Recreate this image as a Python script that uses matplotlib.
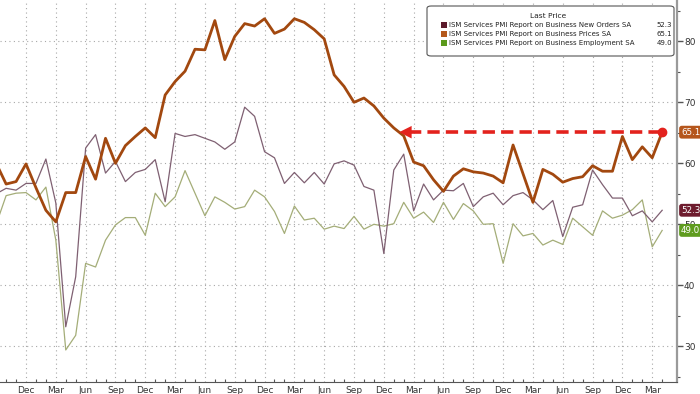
import numpy as np
import pandas as pd
import matplotlib
matplotlib.use('Agg')
import matplotlib.pyplot as plt
from matplotlib.patches import FancyBboxPatch, Rectangle
from matplotlib.ticker import FixedLocator, MultipleLocator
import matplotlib.transforms as mtransforms

plt.rcParams['font.family'] = ['DejaVu Sans']

# monthly readings, Sep 2019 .. Apr 2025
prices = [60.0, 56.6, 57.0, 59.9,
          56.0, 52.3, 50.4, 55.2, 55.2, 61.1, 57.4, 64.1, 60.0, 62.9, 64.4, 65.8,
          64.2, 71.2, 73.4, 75.1, 78.7, 78.6, 83.4, 77.0, 80.8, 82.9, 82.5, 83.7,
          81.3, 82.0, 83.7, 83.1, 81.9, 80.4, 74.5, 72.6, 70.0, 70.7, 69.4, 67.4,
          65.8, 64.5, 60.2, 59.6, 57.3, 55.4, 57.9, 59.1, 58.6, 58.4, 57.9, 56.8,
          63.0, 58.3, 53.6, 59.0, 58.2, 56.9, 57.5, 57.8, 59.6, 58.7, 58.7, 64.4,
          60.6, 62.7, 60.9, 65.1]
new_orders = [55.0, 55.9, 55.6, 56.7,
              56.7, 60.7, 53.5, 33.2, 41.4, 62.5, 64.7, 58.4, 60.3, 57.0, 58.5, 59.0,
              60.6, 53.7, 64.9, 64.4, 64.7, 64.1, 63.5, 62.3, 63.5, 69.2, 67.7, 61.9,
              60.9, 56.7, 58.5, 56.8, 58.5, 56.6, 59.9, 60.4, 59.7, 56.2, 55.6, 45.2,
              58.9, 61.5, 52.2, 56.6, 54.0, 55.6, 55.5, 56.7, 52.9, 54.5, 55.1, 53.2,
              54.7, 55.2, 54.0, 52.4, 53.9, 48.0, 52.8, 53.2, 58.9, 56.5, 54.3, 54.3,
              51.4, 52.2, 50.4, 52.3]
employment = [50.0, 54.7, 55.1, 55.2,
              54.0, 56.1, 47.4, 29.4, 31.8, 43.6, 43.0, 47.4, 49.9, 51.1, 51.1, 48.2,
              55.1, 52.9, 54.5, 58.8, 55.1, 51.4, 54.5, 53.6, 52.5, 52.9, 55.6, 54.5,
              52.1, 48.5, 53.0, 50.7, 51.0, 49.2, 49.7, 49.3, 51.3, 49.2, 50.0, 49.7,
              50.1, 53.6, 51.0, 52.0, 50.3, 53.6, 50.8, 53.4, 52.2, 50.0, 50.1, 43.6,
              50.1, 48.1, 48.5, 46.6, 47.4, 46.7, 51.0, 49.6, 48.2, 52.2, 51.0, 51.5,
              52.4, 54.0, 46.3, 49.0]

series_names = ['ISM Services PMI Report on Business New Orders SA',
                'ISM Services PMI Report on Business Prices SA',
                'ISM Services PMI Report on Business Employment SA']
legend_colors = ['#5c1a2b', '#b4581b', '#5b9a1c']
tag_colors = ['#6e1c2e', '#b5561c', '#5f9c1f']

dates = pd.date_range('2019-09-01', periods=len(prices), freq='MS')
x = np.array((dates.year - 2019) * 12 + dates.month - 12, dtype=float)  # Dec 2019 -> 0

W, H = 700, 394
fig = plt.figure(figsize=(7, 3.94), dpi=100)
fig.patch.set_facecolor('white')
ax_bottom = 381.7
ax_right = 677
ax = fig.add_axes([0, (H - ax_bottom) / H, ax_right / W, ax_bottom / H])

ppm = 9.94  # pixels per month
xmin, xmax = -26 / ppm, (ax_right - 26) / ppm
ax.set_xlim(xmin, xmax)
ax.set_ylim(50 - (ax_bottom - 224.3) / 6.1, 50 + 224.3 / 6.1)

# grid
quarter = (dates.month % 3 == 0) & (x >= xmin)
for xv in x[quarter]:
    ax.axvline(xv, color='#a8a8a8', lw=0.8, ls=(0, (1, 3)), zorder=0)
for yv in range(30, 90, 10):
    ax.axhline(yv, color='#a8a8a8', lw=0.8, ls=(0, (1, 3)), zorder=0)

ax.plot(x, employment, color='#a4ad78', lw=0.9, zorder=2)
ax.plot(x, new_orders, color='#7f6072', lw=0.9, zorder=3)
ax.plot(x, prices, color='#a2480f', lw=2.0, zorder=4)

# arrow from latest price back to where prices last stood at that level
last = prices[-1]
tip = None
for i in range(len(prices) - 2, 0, -1):
    if prices[i - 1] >= last > prices[i]:
        tip = x[i - 1] + (prices[i - 1] - last) / (prices[i - 1] - prices[i])
        break
red = '#e3221d'
head = 1.3
ax.plot([tip + head * 0.8, x[-1]], [last, last], color=red, lw=2.6,
        ls=(0, (3.4, 1.7)), zorder=6, solid_capstyle='butt', dash_capstyle='butt')
ax.plot([x[-1]], [last], 'o', color=red, ms=6, zorder=7)
ax.annotate('', xy=(tip, last), xytext=(tip + head, last),
            arrowprops=dict(arrowstyle='-|>,head_length=0.9,head_width=0.45',
                            color=red, lw=0, shrinkA=0, shrinkB=0), zorder=7)

# axes styling
for s in ['top', 'left']:
    ax.spines[s].set_visible(False)
ax.spines['right'].set_color('#9a9a9a')
ax.spines['right'].set_linewidth(1.6)
ax.spines['bottom'].set_color('#555555')
ax.spines['bottom'].set_linewidth(0.8)

ax.yaxis.tick_right()
ax.set_yticks(range(30, 90, 10))
ax.yaxis.set_minor_locator(MultipleLocator(5))
ax.tick_params(axis='y', which='major', direction='out', length=4, width=1,
               color='#555555', labelsize=6.5, labelcolor='#333333', pad=1)
ax.tick_params(axis='y', which='minor', direction='out', length=2.5, width=0.8,
               color='#555555')

ax.set_xticks(x[quarter])
ax.set_xticklabels([d.strftime('%b') for d in dates[quarter]])
ax.xaxis.set_minor_locator(FixedLocator(x[(dates.month % 3 != 0)]))
ax.tick_params(axis='x', which='major', length=0, labelsize=6.5,
               labelcolor='#333333', pad=3)
ax.tick_params(axis='x', which='minor', direction='in', length=2.5, width=0.8,
               color='#555555')

# last value tags on the right
tag_trans = mtransforms.blended_transform_factory(ax.transAxes, ax.transData)
latest = [new_orders[-1], prices[-1], employment[-1]]
for val, col in zip(latest, tag_colors):
    ax.text(1.006, val, f'{val:.1f}', transform=tag_trans, ha='left', va='center',
            fontsize=6.3, color='white', zorder=10, clip_on=False,
            bbox=dict(boxstyle='round,pad=0.22,rounding_size=0.3', fc=col, ec='none'))

# legend box
def fx(px):
    return px / W

def fy(py):
    return 1 - py / H

box = FancyBboxPatch((fx(427), fy(56)), fx(674) - fx(427), fy(6) - fy(56),
                     boxstyle='round,pad=0,rounding_size=0.006',
                     transform=fig.transFigure, fc='white', ec='#555555', lw=0.8,
                     zorder=20)
fig.add_artist(box)
fig.text(fx(548), fy(16), 'Last Price', ha='center', va='center', fontsize=5.4,
         color='#222222', zorder=21)
rows = [25, 34.2, 43.4]
for row, name, val, col in zip(rows, series_names, latest, legend_colors):
    fig.add_artist(Rectangle((fx(441.5), fy(row + 3)), fx(6), 6 / H,
                             transform=fig.transFigure, fc=col, ec='none', zorder=21))
    fig.text(fx(449), fy(row), name, ha='left', va='center', fontsize=5.0,
             color='#222222', zorder=21)
    fig.text(fx(672), fy(row), f'{val:.1f}', ha='right', va='center', fontsize=5.0,
             color='#222222', zorder=21)

fig.savefig('out.png', dpi=100, facecolor='white')
